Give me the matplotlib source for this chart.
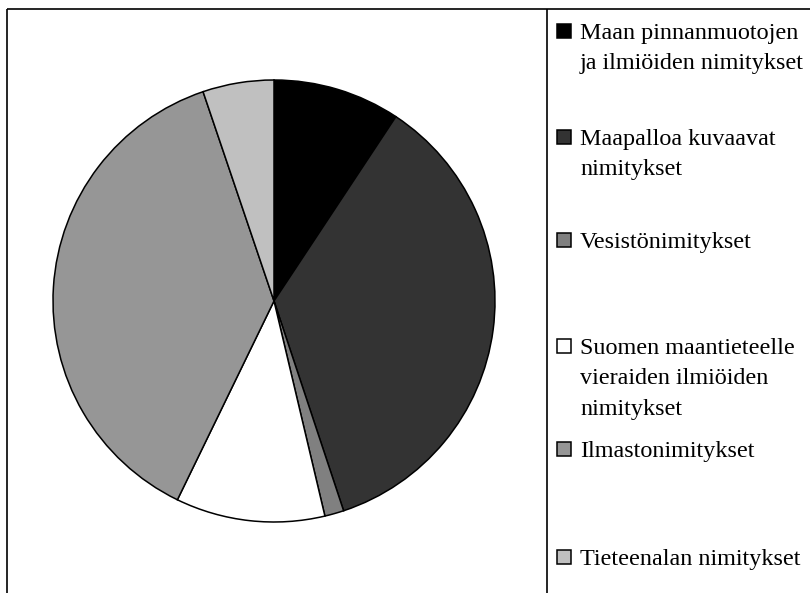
import matplotlib
matplotlib.use("Agg")
import matplotlib.pyplot as plt
from matplotlib.patches import Rectangle

# Category shares (%) and fill colours, clockwise from 12 o'clock
categories = [
    "Maan pinnanmuotojen\nja ilmiöiden nimitykset",
    "Maapalloa kuvaavat\nnimitykset",
    "Vesistönimitykset",
    "Suomen maantieteelle\nvieraiden ilmiöiden\nnimitykset",
    "Ilmastonimitykset",
    "Tieteenalan nimitykset",
]
shares = [9.3, 35.6, 1.4, 10.9, 37.6, 5.2]
colors = ["#000000", "#333333", "#808080", "#ffffff", "#969696", "#c0c0c0"]

W, H = 810, 593
fig = plt.figure(figsize=(W / 100, H / 100), dpi=100)
ax = fig.add_axes([0, 0, 1, 1])

# pixel-style coordinates measured from the top edge
def Y(y):
    return H - y

ax.pie(shares, colors=colors, startangle=90, counterclock=False,
       center=(274, Y(301)), radius=221, frame=True,
       wedgeprops=dict(edgecolor="black", linewidth=1.1))
ax.set_xlim(0, W)
ax.set_ylim(0, H)
ax.set_aspect("equal")
ax.axis("off")

# chart frame and legend separator
frame_kw = dict(color="black", linewidth=1.2, solid_capstyle="butt")
ax.plot([7, 7], [Y(9), Y(H + 5)], **frame_kw)
ax.plot([7, W + 5], [Y(9), Y(9)], **frame_kw)
ax.plot([547, 547], [Y(9), Y(H + 5)], **frame_kw)

# legend: first-line baselines of each entry
baselines = [39, 145, 248, 354, 457, 565]
line_gap = 30.5
font = dict(family="Liberation Serif", fontsize=17.4, color="black")
for label, col, yb in zip(categories, colors, baselines):
    ax.add_patch(Rectangle((557, Y(yb - 1)), 13.5, 14, facecolor=col,
                           edgecolor="black", linewidth=1.1))
    for i, line in enumerate(label.split("\n")):
        ax.text(580, Y(yb + i * line_gap), line, ha="left", va="baseline", **font)

fig.savefig("out.png", dpi=100)
